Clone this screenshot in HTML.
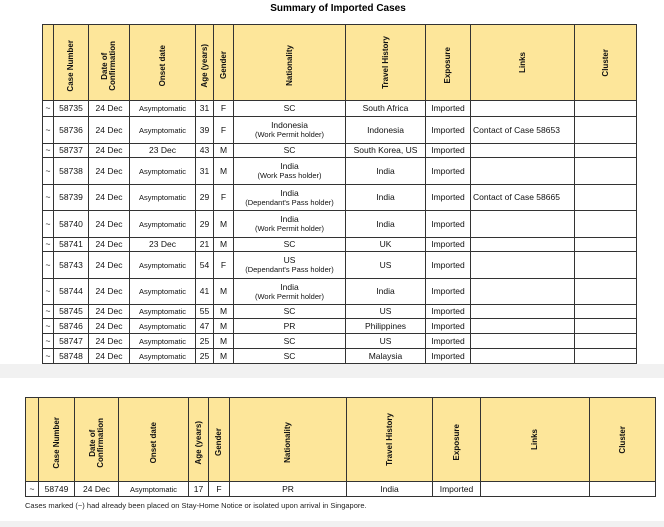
<!DOCTYPE html>
<html><head><meta charset="utf-8"><style>
body{margin:0;width:664px;height:527px;background:#f1f1f1;font-family:"Liberation Sans",Arial,sans-serif;position:relative;overflow:hidden}
.page{position:absolute;left:0;width:664px;background:#fff}
table{position:absolute;border-collapse:collapse;table-layout:fixed}
td,th{border:1px solid #333;padding:0;text-align:center;font-size:8.5px;color:#111;line-height:9px;overflow:hidden;white-space:nowrap}
th{background:#fde69a;font-weight:bold;font-size:8px;vertical-align:middle}
th div{writing-mode:vertical-rl;transform:rotate(180deg);margin:0 auto;line-height:8px}
th div.b{margin-top:6px}
.s{font-size:7.5px}
.l{text-align:left;padding-left:2px}
</style></head><body>
<div class="page" style="top:0;height:364px"></div>
<div class="page" style="top:378px;height:143px"></div>
<div style="position:absolute;top:3px;left:0;width:676px;text-align:center;font-weight:bold;font-size:10px">Summary of Imported Cases</div>

<table style="left:42px;top:24px;width:594px">
<colgroup><col style="width:11px"><col style="width:35px"><col style="width:41px"><col style="width:66px"><col style="width:18px"><col style="width:20px"><col style="width:112px"><col style="width:80px"><col style="width:45px"><col style="width:104px"><col style="width:62px"></colgroup>
<tr style="height:76px"><th></th><th><div class="b">Case Number</div></th><th><div class="b">Date of<br>Confirmation</div></th><th><div class="b">Onset date</div></th><th><div class="b">Age (years)</div></th><th><div class="b">Gender</div></th><th><div class="b">Nationality</div></th><th><div>Travel History</div></th><th><div class="b">Exposure</div></th><th><div>Links</div></th><th><div>Cluster</div></th></tr>
<tr style="height:16px"><td>~</td><td>58735</td><td>24 Dec</td><td class="s">Asymptomatic</td><td>31</td><td>F</td><td>SC</td><td>South Africa</td><td>Imported</td><td></td><td></td></tr>
<tr style="height:27px"><td>~</td><td>58736</td><td>24 Dec</td><td class="s">Asymptomatic</td><td>39</td><td>F</td><td>Indonesia<br><span class="s">(Work Permit holder)</span></td><td>Indonesia</td><td>Imported</td><td class="l">Contact of Case 58653</td><td></td></tr>
<tr style="height:14px"><td>~</td><td>58737</td><td>24 Dec</td><td>23 Dec</td><td>43</td><td>M</td><td>SC</td><td>South Korea, US</td><td>Imported</td><td></td><td></td></tr>
<tr style="height:27px"><td>~</td><td>58738</td><td>24 Dec</td><td class="s">Asymptomatic</td><td>31</td><td>M</td><td>India<br><span class="s">(Work Pass holder)</span></td><td>India</td><td>Imported</td><td></td><td></td></tr>
<tr style="height:26px"><td>~</td><td>58739</td><td>24 Dec</td><td class="s">Asymptomatic</td><td>29</td><td>F</td><td>India<br><span class="s">(Dependant's Pass holder)</span></td><td>India</td><td>Imported</td><td class="l">Contact of Case 58665</td><td></td></tr>
<tr style="height:27px"><td>~</td><td>58740</td><td>24 Dec</td><td class="s">Asymptomatic</td><td>29</td><td>M</td><td>India<br><span class="s">(Work Permit holder)</span></td><td>India</td><td>Imported</td><td></td><td></td></tr>
<tr style="height:14px"><td>~</td><td>58741</td><td>24 Dec</td><td>23 Dec</td><td>21</td><td>M</td><td>SC</td><td>UK</td><td>Imported</td><td></td><td></td></tr>
<tr style="height:27px"><td>~</td><td>58743</td><td>24 Dec</td><td class="s">Asymptomatic</td><td>54</td><td>F</td><td>US<br><span class="s">(Dependant's Pass holder)</span></td><td>US</td><td>Imported</td><td></td><td></td></tr>
<tr style="height:26px"><td>~</td><td>58744</td><td>24 Dec</td><td class="s">Asymptomatic</td><td>41</td><td>M</td><td>India<br><span class="s">(Work Permit holder)</span></td><td>India</td><td>Imported</td><td></td><td></td></tr>
<tr style="height:14px"><td>~</td><td>58745</td><td>24 Dec</td><td class="s">Asymptomatic</td><td>55</td><td>M</td><td>SC</td><td>US</td><td>Imported</td><td></td><td></td></tr>
<tr style="height:15px"><td>~</td><td>58746</td><td>24 Dec</td><td class="s">Asymptomatic</td><td>47</td><td>M</td><td>PR</td><td>Philippines</td><td>Imported</td><td></td><td></td></tr>
<tr style="height:15px"><td>~</td><td>58747</td><td>24 Dec</td><td class="s">Asymptomatic</td><td>25</td><td>M</td><td>SC</td><td>US</td><td>Imported</td><td></td><td></td></tr>
<tr style="height:15px"><td>~</td><td>58748</td><td>24 Dec</td><td class="s">Asymptomatic</td><td>25</td><td>M</td><td>SC</td><td>Malaysia</td><td>Imported</td><td></td><td></td></tr>
</table>

<table style="left:25px;top:397px;width:630px">
<colgroup><col style="width:13px"><col style="width:36px"><col style="width:44px"><col style="width:70px"><col style="width:20px"><col style="width:21px"><col style="width:117px"><col style="width:86px"><col style="width:48px"><col style="width:109px"><col style="width:66px"></colgroup>
<tr style="height:84px"><th></th><th><div class="b">Case Number</div></th><th><div class="b">Date of<br>Confirmation</div></th><th><div class="b">Onset date</div></th><th><div class="b">Age (years)</div></th><th><div class="b">Gender</div></th><th><div class="b">Nationality</div></th><th><div>Travel History</div></th><th><div class="b">Exposure</div></th><th><div>Links</div></th><th><div>Cluster</div></th></tr>
<tr style="height:15px"><td>~</td><td>58749</td><td>24 Dec</td><td class="s">Asymptomatic</td><td>17</td><td>F</td><td>PR</td><td>India</td><td>Imported</td><td></td><td></td></tr>
</table>
<div style="position:absolute;left:25px;top:501px;font-size:7.5px;color:#222">Cases marked (~) had already been placed on Stay-Home Notice or isolated upon arrival in Singapore.</div>
</body></html>
